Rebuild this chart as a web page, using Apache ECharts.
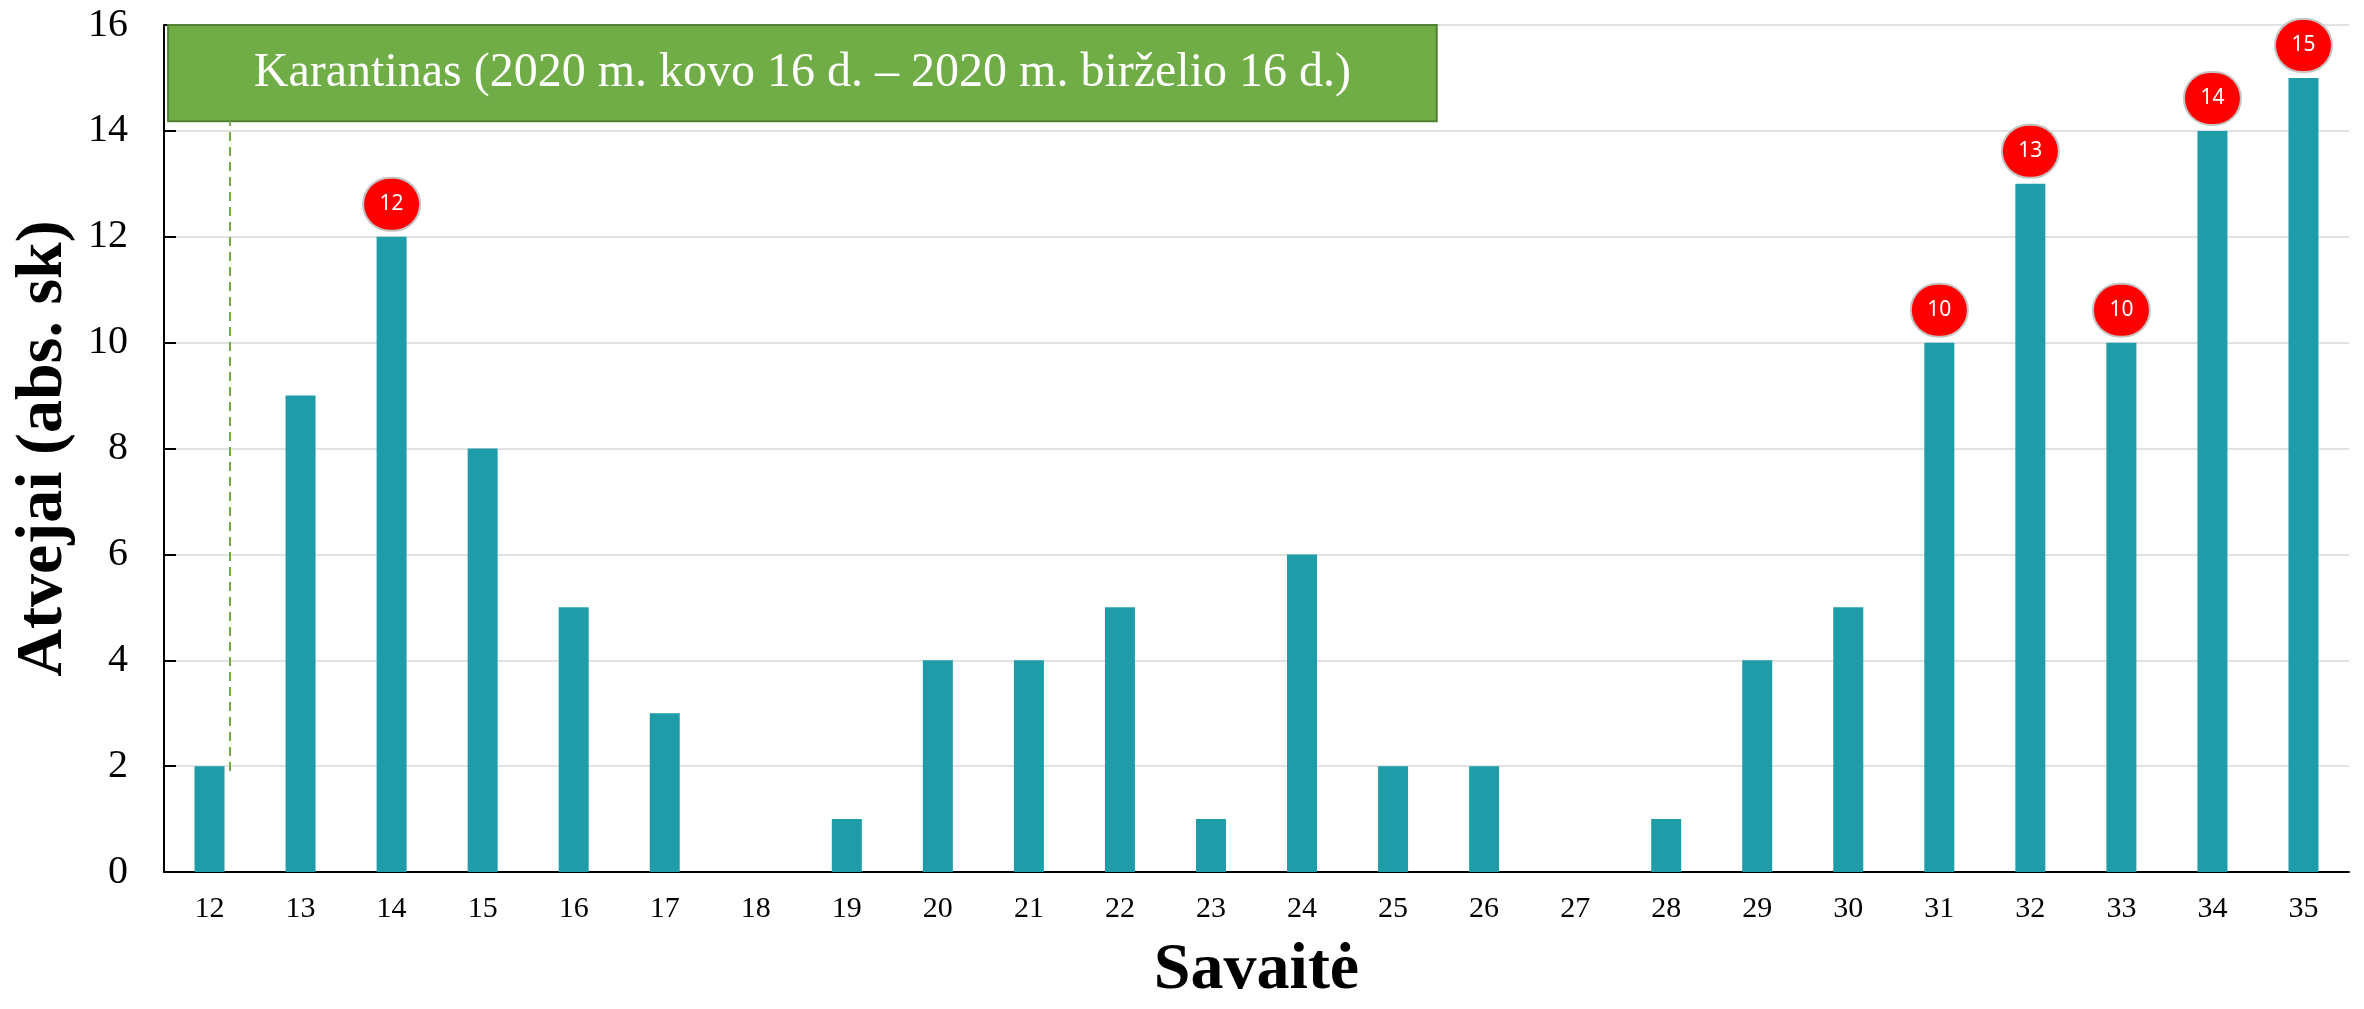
<!DOCTYPE html>
<html>
<head>
<meta charset="utf-8">
<script src="https://cdn.jsdelivr.net/npm/echarts@6/dist/echarts.min.js"></script>
<style>
    html, body { margin: 0; padding: 0; background: #fff; }
    #main { width: 2364px; height: 1009px; }
</style>
</head>
<body>
<div id="main"></div>
<script>
/* savaitės ir atvejų skaičius */
const weeks = ['12', '13', '14', '15', '16', '17', '18', '19', '20', '21', '22', '23',
    '24', '25', '26', '27', '28', '29', '30', '31', '32', '33', '34', '35'];
const cases = [2, 9, 12, 8, 5, 3, 0, 1, 4, 4, 5, 1, 6, 2, 2, 0, 1, 4, 5, 10, 13, 10, 14, 15];
const yTicks = [0, 2, 4, 6, 8, 10, 12, 14, 16];

/* karantino anotacija (savaičių skalėje) */
const quarantineText = 'Karantinas (2020 m. kovo 16 d. – 2020 m. birželio 16 d.)';
const quarantineBox = [[11.545, 16], [25.48, 14.18]];
const quarantineLine = [[12.225, 1.91], [12.225, 14.18]];
const highlightFrom = 10;

const serif = "'Liberation Serif', 'Times New Roman', serif";

const barData = cases.map(function (v) {
    if (v >= highlightFrom) {
        return { value: v, label: { show: true } };
    }
    return v;
});

const chart = echarts.init(document.getElementById('main'));

chart.setOption({
    animation: false,
    grid: { left: 164, right: 15, top: 25, bottom: 129, containLabel: false },
    xAxis: [
        {
            type: 'category',
            data: weeks,
            name: 'Savaitė',
            nameLocation: 'middle',
            nameGap: 66,
            nameTextStyle: { fontFamily: serif, fontSize: 66, fontWeight: 'bold', color: '#000' },
            axisLine: { lineStyle: { color: '#000', width: 2 } },
            axisTick: { inside: true, length: 9, lineStyle: { color: '#000', width: 2 } },
            axisLabel: { fontFamily: serif, fontSize: 30, color: '#000', margin: 22 },
            splitLine: { show: false }
        },
        {
            type: 'value',
            min: 11.5,
            max: 35.5,
            show: false
        }
    ],
    yAxis: {
        type: 'value',
        min: yTicks[0],
        max: yTicks[yTicks.length - 1],
        interval: 2,
        name: 'Atvejai (abs. sk)',
        nameLocation: 'middle',
        nameRotate: 90,
        nameGap: 82,
        nameTextStyle: { fontFamily: serif, fontSize: 66, fontWeight: 'bold', color: '#000' },
        axisLine: { show: true, lineStyle: { color: '#000', width: 2 } },
        axisTick: { show: true, inside: true, length: 12, lineStyle: { color: '#000', width: 2 } },
        axisLabel: { fontFamily: serif, fontSize: 40, color: '#000', margin: 36 },
        splitLine: { lineStyle: { color: '#d9d9d9', width: 1.5 } }
    },
    series: [
        {
            type: 'bar',
            data: barData,
            barWidth: 30,
            itemStyle: { color: '#1e9ca8' },
            label: {
                show: false,
                position: 'top',
                distance: 7,
                color: '#fff',
                fontFamily: "'Noto Sans', sans-serif",
                fontSize: 21,
                backgroundColor: '#ff0000',
                borderColor: '#c4c4c4',
                borderWidth: 2,
                borderRadius: 27,
                width: 55,
                height: 51,
                lineHeight: 51,
                align: 'center',
                padding: 0
            }
        },
        {
            type: 'line',
            xAxisIndex: 1,
            data: quarantineLine,
            symbol: 'none',
            silent: true,
            z: 1,
            lineStyle: { color: '#70ad47', width: 2, type: [9, 6] },
            markArea: {
                silent: true,
                itemStyle: { color: '#70ad47', borderColor: '#538135', borderWidth: 2 },
                label: {
                    show: true,
                    position: 'inside',
                    color: '#fff',
                    fontFamily: serif,
                    fontSize: 48
                },
                data: [[
                    { name: quarantineText, coord: quarantineBox[0] },
                    { coord: quarantineBox[1] }
                ]]
            }
        }
    ]
});
</script>
</body>
</html>
